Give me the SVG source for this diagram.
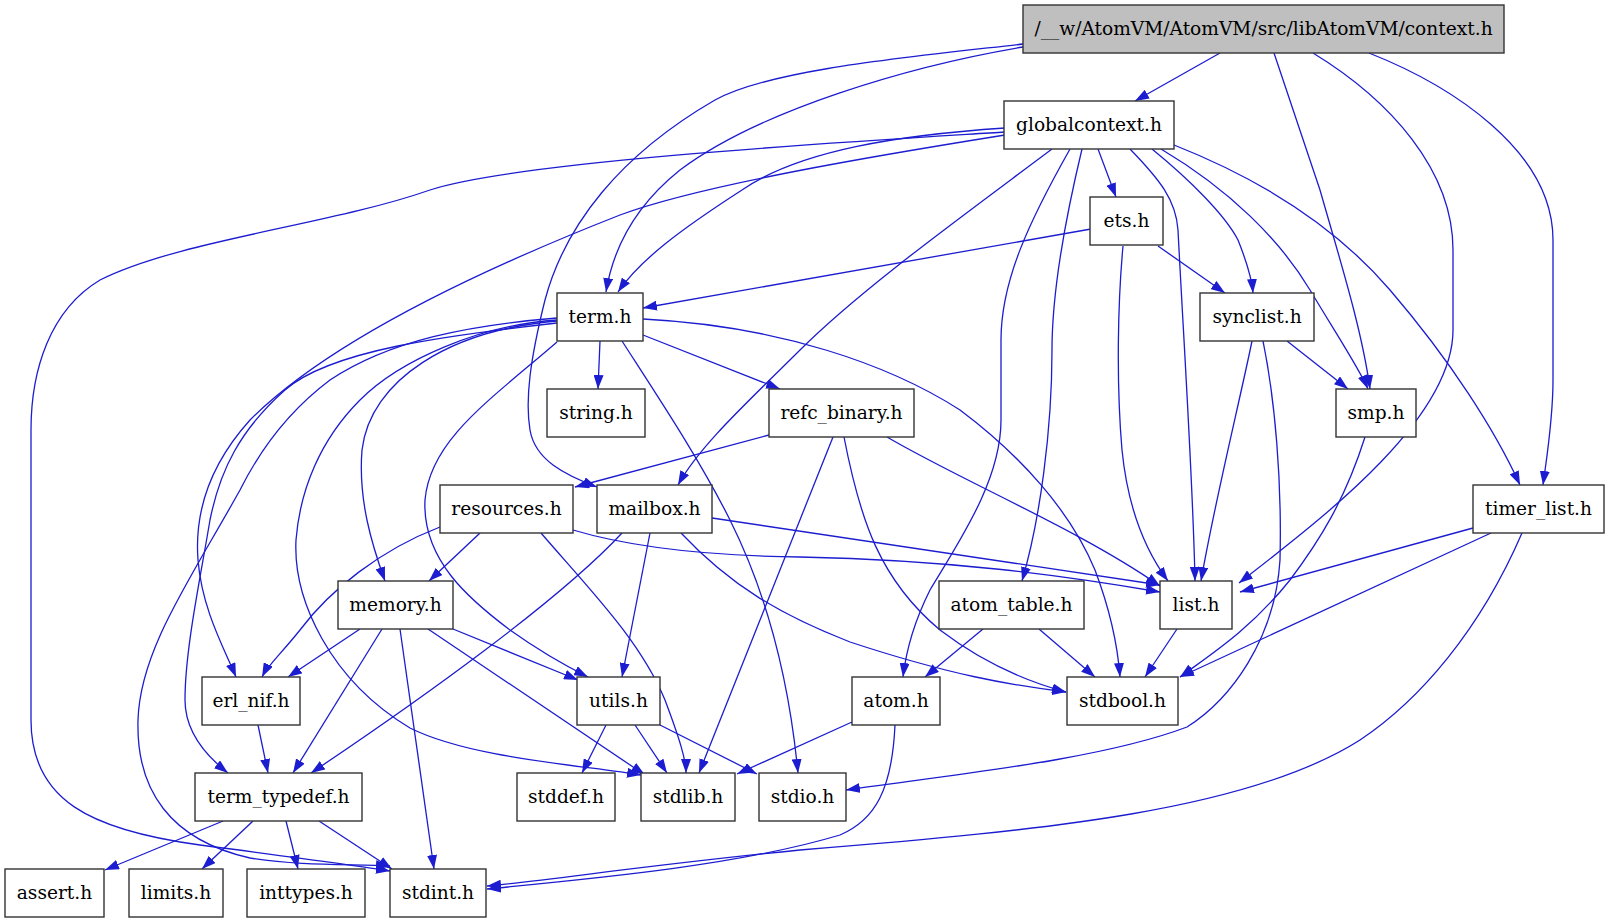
<svg xmlns="http://www.w3.org/2000/svg" width="1609" height="923" viewBox="0 0 1609 923">
<defs>
<style>
.n rect{fill:#ffffff;stroke:#333333;stroke-width:1.4}
.n.root rect{fill:#bfbfbf}
.n text{font-family:"DejaVu Serif",serif;font-size:18.6px;fill:#000;text-anchor:middle}
.e path{fill:none;stroke:#1c1cd0;stroke-width:1.3;marker-end:url(#ah)}
</style>
<marker id="ah" markerUnits="userSpaceOnUse" markerWidth="14" markerHeight="10" viewBox="0 0 14 10" refX="14" refY="5" orient="auto">
<path d="M0,0 L14,5 L0,10 z" fill="#1c1cd0"/>
</marker>
</defs>
<rect width="1609" height="923" fill="#ffffff"/>
<g id="edges" class="e">
<path d="M1220,53 L1135,101"/>
<path d="M1023,47 C910,66 760,110 680,170 C630,210 612,255 606,292"/>
<path d="M1023,44 C900,58 770,70 715,100 C620,155 565,225 545,300 C530,360 525,400 530,430 C535,460 565,475 597,487"/>
<path d="M1274,53 L1320,190 C1340,260 1362,330 1370,389"/>
<path d="M1313,53 C1390,100 1453,170 1453,250 L1453,330 C1453,420 1320,520 1239,583"/>
<path d="M1369,53 C1450,85 1553,150 1553,240 L1553,380 C1553,420 1547,455 1543,485"/>
<path d="M1005,128 C900,135 800,150 742,190 C680,230 640,260 618,292"/>
<path d="M1005,132 C880,140 520,160 430,190 C330,225 180,240 100,280 C50,310 31,370 31,430 L31,720 C31,800 90,830 200,845 C300,858 360,866 390,871"/>
<path d="M1005,135 C880,155 700,185 620,215 C480,270 330,340 250,420 C205,470 195,520 198,560 C202,610 225,650 236,677"/>
<path d="M1052,149 C960,218 860,290 800,350 C750,400 700,445 678,485"/>
<path d="M1070,149 C1030,220 1001,280 1001,340 L1001,420 C1001,480 960,540 930,590 C910,630 905,660 903,677"/>
<path d="M1082,149 C1065,220 1052,290 1052,350 C1052,430 1040,520 1022,581"/>
<path d="M1098,149 L1116,197"/>
<path d="M1130,149 C1160,180 1176,200 1178,230 C1183,330 1193,480 1195,581"/>
<path d="M1152,149 C1190,180 1225,215 1238,240 C1248,265 1252,280 1253,293"/>
<path d="M1161,149 C1230,190 1280,240 1310,290 C1340,340 1360,370 1368,389"/>
<path d="M1174,145 C1250,175 1330,220 1390,290 C1450,360 1495,430 1520,485"/>
<path d="M1091,229 L643,308"/>
<path d="M1158,246 L1225,293"/>
<path d="M1123,246 C1118,300 1116,380 1122,450 C1128,510 1145,550 1168,581"/>
<path d="M600,341 L598,389"/>
<path d="M643,335 L780,389"/>
<path d="M643,319 C780,326 890,365 960,410 C1020,455 1070,510 1095,570 C1112,615 1118,650 1120,677"/>
<path d="M622,341 C660,400 700,460 730,520 C770,600 790,690 798,773"/>
<path d="M557,323 C450,335 330,350 285,390 C240,430 220,470 210,520 C200,580 185,650 185,700 C185,730 205,755 228,773"/>
<path d="M557,318 C470,325 390,340 330,380 C290,410 260,450 240,490 C190,580 140,650 138,720 C136,790 170,840 250,858 C300,866 350,864 390,866"/>
<path d="M557,320 C480,325 400,360 360,400 C320,440 300,490 296,540 C293,600 330,680 410,728 C470,758 580,765 641,775"/>
<path d="M557,321 C450,330 370,380 362,450 C358,500 372,545 385,581"/>
<path d="M557,342 C490,400 430,440 425,500 C422,560 470,600 510,630 C545,655 570,668 588,677"/>
<path d="M1287,341 L1348,389"/>
<path d="M1252,341 C1240,400 1215,500 1201,581"/>
<path d="M1263,341 C1275,400 1282,480 1280,560 C1275,640 1230,700 1187,727 C1100,760 950,775 846,790"/>
<path d="M1365,437 C1345,500 1320,540 1290,580 C1250,630 1210,655 1180,677"/>
<path d="M769,435 L575,487"/>
<path d="M887,437 C960,480 1080,530 1160,586"/>
<path d="M833,437 L699,773"/>
<path d="M844,437 C860,520 880,580 940,630 C990,668 1040,685 1066,692"/>
<path d="M480,533 L429,581"/>
<path d="M440,527 C380,550 330,590 300,630 C280,655 268,665 262,677"/>
<path d="M541,533 C590,590 640,640 665,700 C680,740 686,760 686,773"/>
<path d="M573,530 C640,550 720,556 800,557 C950,560 1060,575 1160,592"/>
<path d="M712,518 L1160,585"/>
<path d="M650,533 L622,677"/>
<path d="M622,533 C560,600 420,700 311,773"/>
<path d="M681,533 C730,585 780,615 850,642 C950,675 1010,685 1066,692"/>
<path d="M1473,528 L1240,592"/>
<path d="M1491,533 L1180,677"/>
<path d="M1522,533 C1480,630 1420,700 1360,740 C1250,810 1050,830 800,850 C650,865 550,880 487,886"/>
<path d="M360,629 L288,677"/>
<path d="M382,629 L293,773"/>
<path d="M400,629 L434,869"/>
<path d="M428,629 L645,775"/>
<path d="M453,629 L578,680"/>
<path d="M983,629 L925,677"/>
<path d="M1039,629 L1095,677"/>
<path d="M1177,629 L1145,677"/>
<path d="M258,725 L268,773"/>
<path d="M606,725 L582,773"/>
<path d="M635,725 L667,773"/>
<path d="M660,725 L757,774"/>
<path d="M852,722 L737,774"/>
<path d="M895,725 C892,790 875,820 840,835 C740,865 600,878 487,889"/>
<path d="M223,821 L105,870"/>
<path d="M253,821 L202,869"/>
<path d="M286,821 L298,869"/>
<path d="M319,821 L392,869"/>
</g>
<g id="node-context" class="n root"><rect x="1023" y="5" width="481" height="48"/><text x="1263.5" y="35">/__w/AtomVM/AtomVM/src/libAtomVM/context.h</text></g>
<g id="node-globalcontext" class="n"><rect x="1004" y="101" width="170" height="48"/><text x="1089" y="131">globalcontext.h</text></g>
<g id="node-ets" class="n"><rect x="1090" y="197" width="73" height="48"/><text x="1126.5" y="227">ets.h</text></g>
<g id="node-term" class="n"><rect x="557" y="293" width="86" height="48"/><text x="600" y="323">term.h</text></g>
<g id="node-synclist" class="n"><rect x="1200" y="293" width="114" height="48"/><text x="1257" y="323">synclist.h</text></g>
<g id="node-string" class="n"><rect x="547" y="389" width="98" height="48"/><text x="596" y="419">string.h</text></g>
<g id="node-refc_binary" class="n"><rect x="769" y="389" width="145" height="48"/><text x="841.5" y="419">refc_binary.h</text></g>
<g id="node-smp" class="n"><rect x="1336" y="389" width="80" height="48"/><text x="1376" y="419">smp.h</text></g>
<g id="node-resources" class="n"><rect x="440" y="485" width="133" height="48"/><text x="506.5" y="515">resources.h</text></g>
<g id="node-mailbox" class="n"><rect x="597" y="485" width="115" height="48"/><text x="654.5" y="515">mailbox.h</text></g>
<g id="node-timer_list" class="n"><rect x="1473" y="485" width="131" height="48"/><text x="1538.5" y="515">timer_list.h</text></g>
<g id="node-memory" class="n"><rect x="338" y="581" width="115" height="48"/><text x="395.5" y="611">memory.h</text></g>
<g id="node-atom_table" class="n"><rect x="939" y="581" width="145" height="48"/><text x="1011.5" y="611">atom_table.h</text></g>
<g id="node-list" class="n"><rect x="1160" y="581" width="72" height="48"/><text x="1196" y="611">list.h</text></g>
<g id="node-erl_nif" class="n"><rect x="202" y="677" width="98" height="48"/><text x="251" y="707">erl_nif.h</text></g>
<g id="node-utils" class="n"><rect x="577" y="677" width="83" height="48"/><text x="618.5" y="707">utils.h</text></g>
<g id="node-atom" class="n"><rect x="852" y="677" width="88" height="48"/><text x="896" y="707">atom.h</text></g>
<g id="node-stdbool" class="n"><rect x="1067" y="677" width="111" height="48"/><text x="1122.5" y="707">stdbool.h</text></g>
<g id="node-term_typedef" class="n"><rect x="195" y="773" width="167" height="48"/><text x="278.5" y="803">term_typedef.h</text></g>
<g id="node-stddef" class="n"><rect x="517" y="773" width="98" height="48"/><text x="566" y="803">stddef.h</text></g>
<g id="node-stdlib" class="n"><rect x="641" y="773" width="94" height="48"/><text x="688" y="803">stdlib.h</text></g>
<g id="node-stdio" class="n"><rect x="759" y="773" width="87" height="48"/><text x="802.5" y="803">stdio.h</text></g>
<g id="node-assert" class="n"><rect x="5" y="869" width="99" height="48"/><text x="54.5" y="899">assert.h</text></g>
<g id="node-limits" class="n"><rect x="129" y="869" width="94" height="48"/><text x="176" y="899">limits.h</text></g>
<g id="node-inttypes" class="n"><rect x="247" y="869" width="118" height="48"/><text x="306" y="899">inttypes.h</text></g>
<g id="node-stdint" class="n"><rect x="390" y="869" width="96" height="48"/><text x="438" y="899">stdint.h</text></g>
</svg>
